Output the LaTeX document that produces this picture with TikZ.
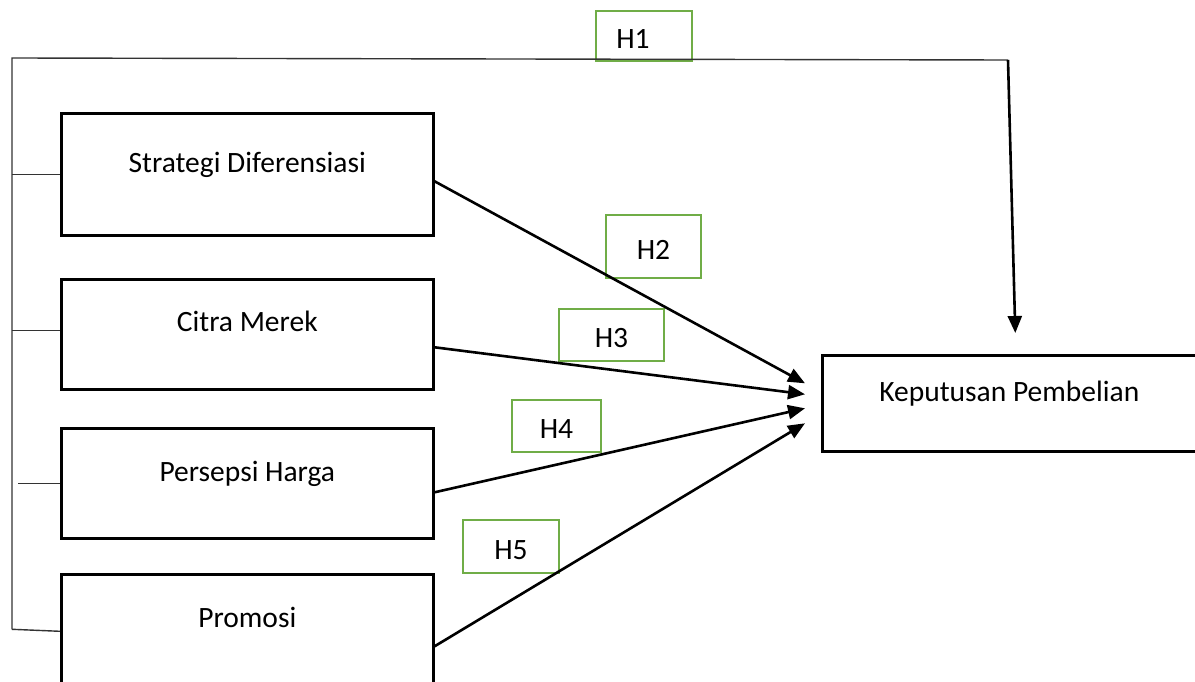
\documentclass[tikz,border=0pt]{standalone}
\usepackage{fontspec}
\setmainfont{Carlito}
\usetikzlibrary{arrows.meta}
\definecolor{hgreen}{RGB}{112,173,71}
\tikzset{
  blk/.style={draw, line width=2.6pt, inner sep=0pt, minimum width=372pt,
              font=\fontsize{29.5}{34}\selectfont, anchor=north west},
  hyp/.style={draw=hgreen, line width=2.6pt, inner sep=0pt,
              text height=27pt, text depth=2pt,
              font=\fontsize{29.5}{34}\selectfont},
  sig/.style={-{Triangle[length=17pt,width=14pt]}, line width=2.6pt},
  brk/.style={line width=1.4pt, black!80},
}

\begin{document}
\begin{tikzpicture}[x=1pt,y=-1pt]
    \useasboundingbox (0,0) rectangle (1195,682);
    % variables
    \node[blk,text height=59pt,text depth=63pt] (sd) at (60,112) {Strategi Diferensiasi};
    \node[blk,text height=52pt,text depth=58pt] (cm) at (60,278) {Citra Merek};
    \node[blk,text height=53pt,text depth=57pt] (ph) at (60,427) {Persepsi Harga};
    \node[blk,text height=53pt,text depth=67pt] (pr) at (60,573) {Promosi};
    \node[blk,text height=46pt,text depth=50pt,minimum width=374pt] (kp) at (821,354) {Keputusan Pembelian};
    % hypotheses
    \node[hyp,minimum width=96pt,minimum height=50pt] (h1) at (644,36) {H1\kern22pt};
    \node[hyp,minimum width=95pt,minimum height=63pt] (h2) at (653.5,246.5) {H2};
    \node[hyp,minimum width=105pt,minimum height=52pt] (h3) at (611.5,335) {H3};
    \node[hyp,minimum width=89pt,minimum height=52pt] (h4) at (556.5,426) {H4};
    \node[hyp,minimum width=96pt,minimum height=53pt] (h5) at (511,546.5) {H5};
    % simultaneous bracket
    \coordinate (lt) at (12,58);
    \coordinate (rt) at (1008,60);
    \draw[brk] ([yshift=5pt]pr.west -| lt) -- (lt) -- (rt);
    \draw[brk] (sd.west) -- (sd.west -| lt);
    \draw[brk] ([yshift=4pt]cm.west) -- ([yshift=4pt]cm.west -| lt);
    \draw[brk] (ph.west) -- ([xshift=6pt]ph.west -| lt);
    \draw[brk] ([yshift=3pt]pr.west) -- ([yshift=5pt]pr.west -| lt);
    \draw[sig] (rt) -- ([xshift=6pt,yshift=21pt]kp.north);
    % partial effects
    \draw[sig] ([yshift=-7pt]sd.east) -- ([xshift=-16pt,yshift=20pt]kp.west);
    \draw[sig] ([yshift=-13pt]cm.east) -- ([xshift=-16pt,yshift=9pt]kp.west);
    \draw[sig] ([yshift=-9pt]ph.east) -- ([xshift=-16pt,yshift=-5pt]kp.west);
    \draw[sig] ([yshift=-12pt]pr.east) -- ([xshift=-16pt,yshift=-20pt]kp.west);
\end{tikzpicture}
\end{document}
